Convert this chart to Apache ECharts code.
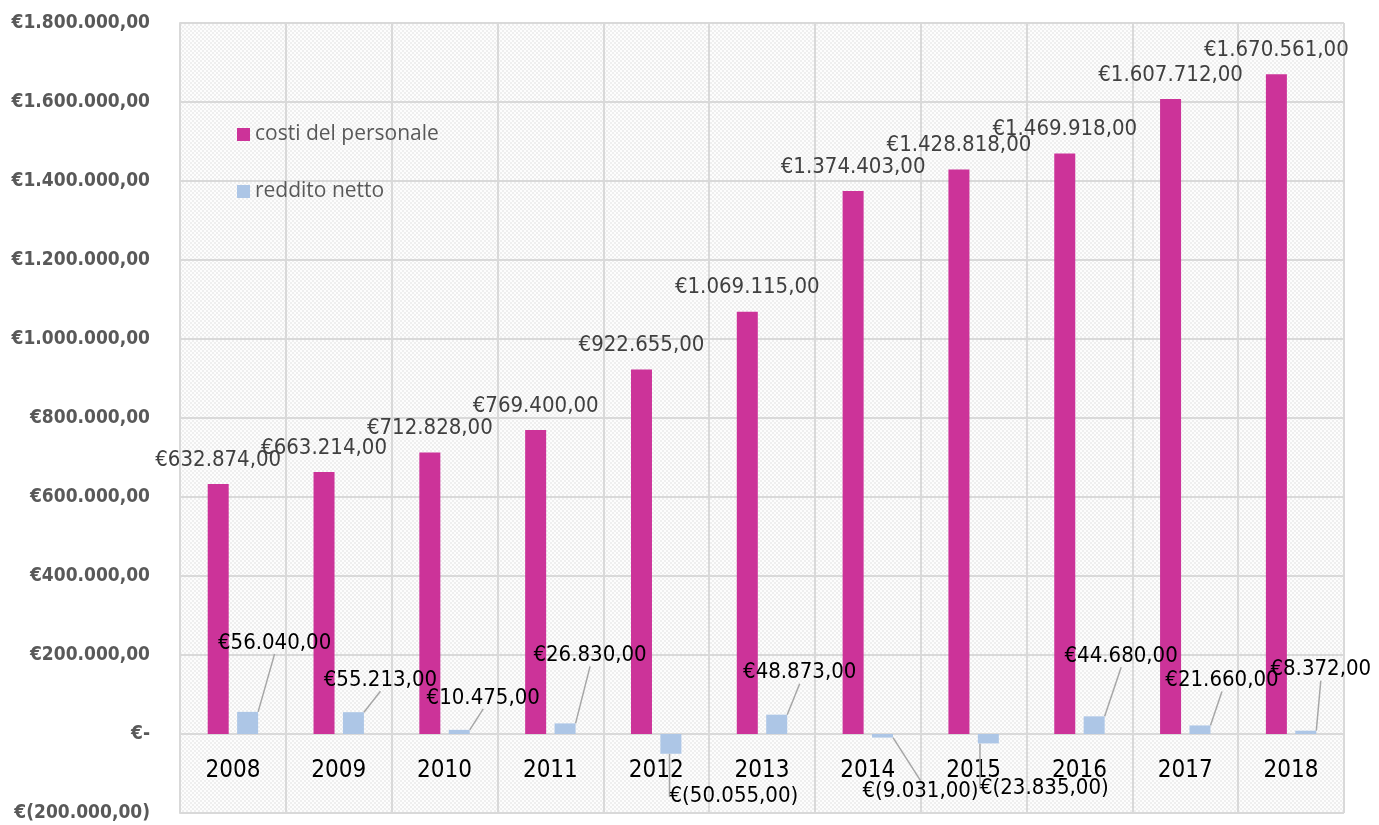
<!DOCTYPE html>
<html>
<head>
<meta charset="utf-8">
<title>costi del personale / reddito netto</title>
<script src="https://cdn.jsdelivr.net/npm/echarts@6/dist/echarts.min.js"></script>
<style>
  html, body { margin: 0; padding: 0; background: #ffffff; }
  #chart { width: 1379px; height: 825px; }
</style>
</head>
<body>
<div id="chart"></div>
<script>
// Years on the category axis
const years = ['2008', '2009', '2010', '2011', '2012', '2013', '2014', '2015', '2016', '2017', '2018'];
// Personnel costs (€)
const costiPersonale = [632874, 663214, 712828, 769400, 922655, 1069115, 1374403, 1428818, 1469918, 1607712, 1670561];
// Net income (€)
const redditoNetto = [56040, 55213, 10475, 26830, -50055, 48873, -9031, -23835, 44680, 21660, 8372];
// Value axis range and step
const yMin = -200000;
const yMax = 1800000;
const yStep = 200000;

// Offsets of the net-income callouts from the bar end (px): [dx, dy]
const calloutOffsets = [
  [27, -69], [27, -32], [24, -32], [25, -68], [63, 43], [23, -42],
  [38, 54], [56, 45], [27, -60], [22, -45], [15, -61]
];

// Euro formatting, Italian style: €1.234.567,00 ; negatives in brackets ; zero as €-
function euro(v) {
  if (v === 0) return '€-';
  const abs = Math.abs(v);
  const intPart = Math.floor(abs).toString().replace(/\B(?=(\d{3})+(?!\d))/g, '.');
  const dec = Math.round((abs - Math.floor(abs)) * 100).toString().padStart(2, '0');
  const s = intPart + ',' + dec;
  return v < 0 ? '€(' + s + ')' : '€' + s;
}

// Fine dotted hatch for the plot background
function hatchPattern() {
  const c = document.createElement('canvas');
  c.width = 4; c.height = 4;
  const ctx = c.getContext('2d');
  ctx.fillStyle = '#fdfdfd';
  ctx.fillRect(0, 0, 4, 4);
  ctx.fillStyle = '#efefef';
  ctx.fillRect(0, 0, 2, 2);
  ctx.fillRect(2, 2, 2, 2);
  return c;
}

const labelFont = 'DejaVu Sans Condensed, DejaVu Sans, sans-serif';

const chart = echarts.init(document.getElementById('chart'), null, { renderer: 'canvas' });

chart.setOption({
  animation: false,
  backgroundColor: '#ffffff',
  grid: {
    left: 180, right: 35, top: 23, bottom: 12,
    outerBoundsMode: 'none',
    containLabel: false,
    show: true,
    backgroundColor: { image: hatchPattern(), repeat: 'repeat' },
    borderWidth: 0
  },
  legend: {
    orient: 'vertical',
    left: 232,
    top: 119,
    itemWidth: 13,
    itemHeight: 13,
    itemGap: 36,
    icon: 'rect',
    textStyle: { fontFamily: 'Open Sans, Noto Sans, sans-serif', fontSize: 21, color: '#595959' },
    data: ['costi del personale', 'reddito netto']
  },
  xAxis: {
    type: 'category',
    data: years,
    boundaryGap: true,
    position: 'bottom',
    axisLine: { show: false, onZero: false },
    axisTick: { show: false },
    axisLabel: {
      // year labels sit in the band just under the zero line
      margin: -54,
      fontFamily: labelFont,
      fontSize: 24,
      fontWeight: 500,
      color: '#000000',
      interval: 0
    },
    splitLine: { show: true, interval: 0, lineStyle: { color: '#d9d9d9', width: 2 } }
  },
  yAxis: {
    type: 'value',
    min: yMin,
    max: yMax,
    interval: yStep,
    axisLine: { show: true, lineStyle: { color: '#d9d9d9', width: 2 } },
    axisTick: { show: false },
    axisLabel: {
      margin: 30,
      fontFamily: labelFont,
      fontSize: 19,
      fontWeight: 'bold',
      color: '#595959',
      formatter: euro
    },
    splitLine: { lineStyle: { color: '#d9d9d9', width: 2 } }
  },
  series: [
    {
      name: 'costi del personale',
      type: 'bar',
      data: costiPersonale,
      barWidth: 21,
      barGap: '40%',
      itemStyle: { color: '#cc3399' },
      label: {
        show: true,
        position: 'top',
        distance: 13,
        fontFamily: labelFont,
        fontSize: 22,
        color: '#404040',
        formatter: p => euro(p.value)
      }
    },
    {
      name: 'reddito netto',
      type: 'bar',
      data: redditoNetto,
      barWidth: 21,
      itemStyle: { color: '#adc6e6' },
      label: {
        show: true,
        position: 'top',
        fontFamily: labelFont,
        fontSize: 22,
        color: '#000000',
        formatter: p => euro(p.value)
      },
      labelLine: {
        show: true,
        lineStyle: { color: '#a6a6a6', width: 1.5 }
      },
      // callouts are moved off the bar end and tied back with a leader line
      labelLayout: function (params) {
        const off = calloutOffsets[params.dataIndex];
        const r = params.rect;
        const v = redditoNetto[params.dataIndex];
        const anchorY = v >= 0 ? r.y : r.y + r.height;
        const cx = r.x + r.width / 2 + off[0];
        const cy = anchorY + off[1];
        const lr = params.labelRect;
        return {
          dx: cx - (lr.x + lr.width / 2),
          dy: cy - (lr.y + lr.height / 2)
        };
      }
    }
  ]
});
</script>
</body>
</html>
